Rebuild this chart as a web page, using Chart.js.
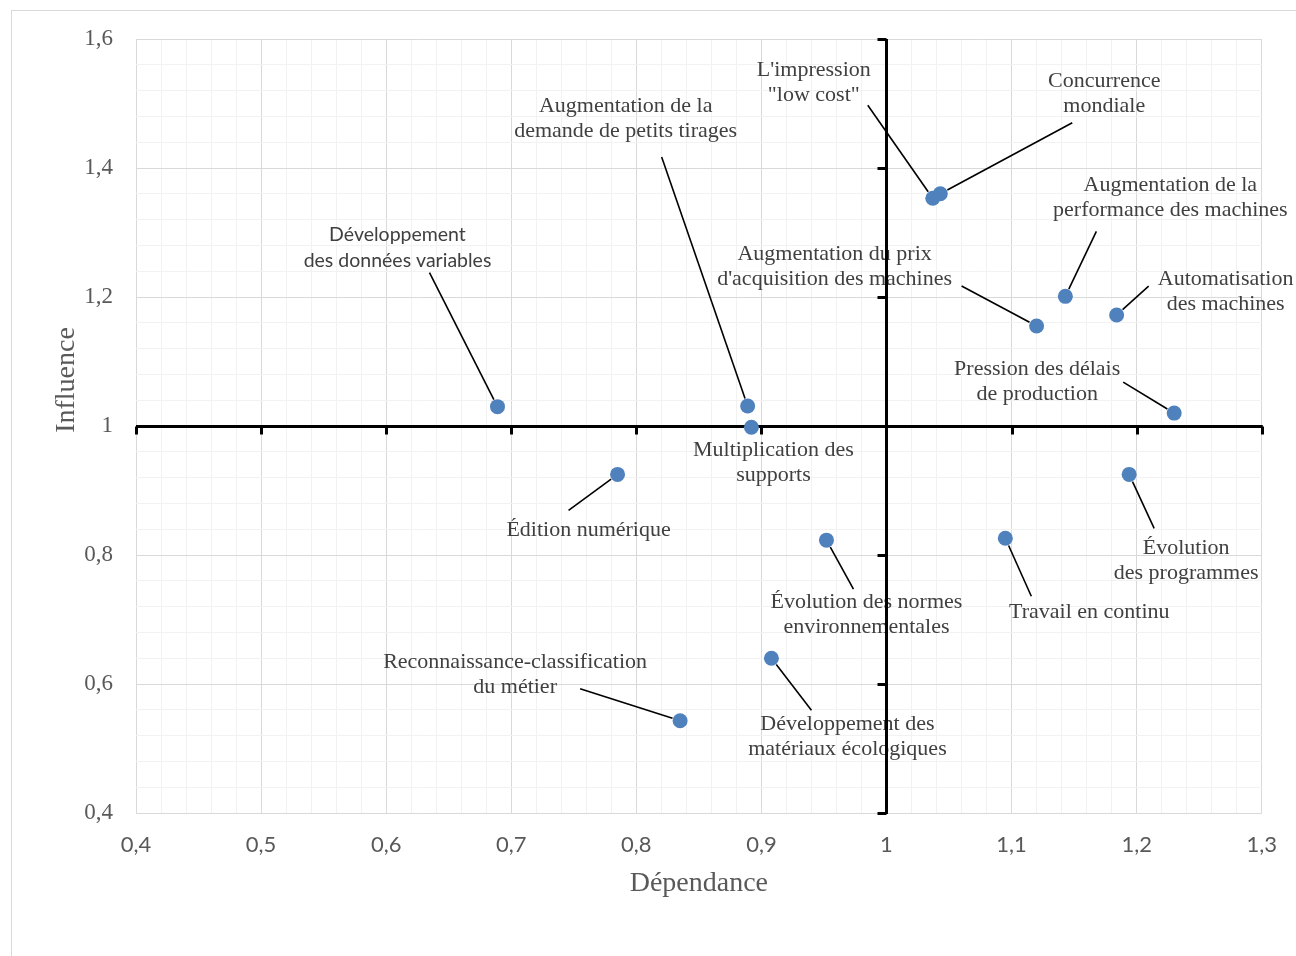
<!DOCTYPE html>
<html>
<head>
<meta charset="utf-8">
<script src="https://cdn.jsdelivr.net/npm/chart.js@4.4.1/dist/chart.umd.min.js"></script>
<style>
html,body{margin:0;padding:0;background:#ffffff;}
#wrap{position:relative;width:1296px;height:956px;}
canvas{display:block;}
</style>
</head>
<body>
<div id="wrap"><canvas id="c" width="1296" height="956"></canvas></div>
<script>
// ---------- data ----------
const categories = [
  ["Développement", "des données variables"],
  ["Augmentation de la", "demande de petits tirages"],
  ["Multiplication des", "supports"],
  ["Édition numérique"],
  ["L'impression", "\"low cost\""],
  ["Concurrence", "mondiale"],
  ["Augmentation de la", "performance des machines"],
  ["Augmentation du prix", "d'acquisition des machines"],
  ["Automatisation", "des machines"],
  ["Pression des délais", "de production"],
  ["Évolution", "des programmes"],
  ["Travail en continu"],
  ["Évolution des normes", "environnementales"],
  ["Développement des", "matériaux écologiques"],
  ["Reconnaissance-classification", "du métier"]
];
const dependance = [0.689, 0.889, 0.892, 0.785, 1.037, 1.043, 1.143, 1.120, 1.184, 1.230, 1.194, 1.095, 0.952, 0.908, 0.835];
const influence  = [1.030, 1.031, 0.998, 0.925, 1.353, 1.360, 1.201, 1.155, 1.172, 1.020, 0.925, 0.826, 0.823, 0.640, 0.543];

const xTickValues = [0.4, 0.5, 0.6, 0.7, 0.8, 0.9, 1.0, 1.1, 1.2, 1.3];
const xTickLabels = ["0,4", "0,5", "0,6", "0,7", "0,8", "0,9", "1", "1,1", "1,2", "1,3"];
const yTickValues = [0.4, 0.6, 0.8, 1.0, 1.2, 1.4, 1.6];
const yTickLabels = ["0,4", "0,6", "0,8", "1", "1,2", "1,4", "1,6"];

const xTitle = "Dépendance";
const yTitle = "Influence";

// ---------- layout (pixel offsets of labels relative to their point) ----------
const labelOffsets = [
  [-100, -172], [-122, -300], [22, 23], [-29, 56], [-119, -128],
  [164, -113], [105, -111], [-202, -72], [109, -36], [-137, -44],
  [57, 74], [84, 74], [40, 62], [76, 66], [-165, -59]
];
const leaderStarts = [
  [-68, -134], [-86, -249], null, [-49, 36], [-65, -93],
  [132, -71], [31, -65], [-75, -40], [32, -29], [-51, -31],
  [25, 54], [26, 58], [27, 49], [40, 52], [-100, -32]
];
const labelSans = [true, false, false, false, false, false, false, false, false, false, false, false, false, false, false];

const SERIF = "'Liberation Serif', 'DejaVu Serif', serif";
const SANS = "Lato, 'Open Sans', sans-serif";

function buildTicks(values, labels, n) {
  const out = [];
  for (let i = 0; i < values.length; i++) {
    out.push({ value: values[i], major: true, label: labels[i] });
    if (i < values.length - 1) {
      for (let k = 1; k < n; k++) {
        out.push({ value: values[i] + (values[i + 1] - values[i]) * k / n, major: false, label: "" });
      }
    }
  }
  return out;
}

const points = dependance.map((v, i) => ({ x: v, y: influence[i] }));

const annot = {
  id: 'annot',
  beforeDraw(chart) {
    const ctx = chart.ctx;
    ctx.save();
    ctx.fillStyle = '#ffffff';
    ctx.fillRect(0, 0, chart.width, chart.height);
    ctx.strokeStyle = '#d9d9d9';
    ctx.lineWidth = 1;
    ctx.strokeRect(11.5, 10.5, 1400, 1000);
    ctx.restore();
  },
  beforeDatasetsDraw(chart) {
    const ctx = chart.ctx;
    const xs = chart.scales.x, ys = chart.scales.y, a = chart.chartArea;
    ctx.save();
    // labels and leader lines
    categories.forEach((lines, i) => {
      const px = xs.getPixelForValue(dependance[i]);
      const py = ys.getPixelForValue(influence[i]);
      const [dx, dy] = labelOffsets[i];
      ctx.font = labelSans[i] ? ("19.5px " + SANS) : ("22px " + SERIF);
      ctx.fillStyle = '#404040';
      ctx.textAlign = 'center';
      ctx.textBaseline = 'middle';
      const gap = labelSans[i] ? 26 : 25;
      lines.forEach((t, j) => ctx.fillText(t, px + dx, py + dy + j * gap));
      const ls = leaderStarts[i];
      if (ls) {
        const sx = px + ls[0], sy = py + ls[1];
        const len = Math.hypot(ls[0], ls[1]);
        const ex = px + ls[0] / len * 8, ey = py + ls[1] / len * 8;
        ctx.beginPath();
        ctx.strokeStyle = '#000000';
        ctx.lineWidth = 1.6;
        ctx.moveTo(sx, sy);
        ctx.lineTo(ex, ey);
        ctx.stroke();
      }
    });
    // axis cross at (1,1)
    const x0 = Math.round(xs.getPixelForValue(1)) + 0.5;
    const y0 = Math.round(ys.getPixelForValue(1)) + 0.5;
    ctx.strokeStyle = '#000000';
    ctx.lineWidth = 3;
    ctx.lineCap = 'butt';
    ctx.beginPath();
    ctx.moveTo(a.left, y0); ctx.lineTo(a.right + 1, y0);
    ctx.moveTo(x0, a.top); ctx.lineTo(x0, a.bottom + 1);
    ctx.stroke();
    ctx.beginPath();
    xTickValues.forEach(v => {
      const tx = Math.round(xs.getPixelForValue(v)) + 0.5;
      ctx.moveTo(tx, y0); ctx.lineTo(tx, y0 + 8);
    });
    yTickValues.forEach(v => {
      const ty = Math.round(ys.getPixelForValue(v)) + 0.5;
      ctx.moveTo(x0, ty); ctx.lineTo(x0 - 9, ty);
    });
    ctx.stroke();
    // y axis title
    ctx.translate(67, 380);
    ctx.rotate(-Math.PI / 2);
    ctx.font = "28px " + SERIF;
    ctx.fillStyle = '#595959';
    ctx.textAlign = 'center';
    ctx.textBaseline = 'middle';
    ctx.fillText(yTitle, 0, 0);
    ctx.restore();
  }
};

new Chart(document.getElementById('c'), {
  type: 'scatter',
  data: {
    datasets: [{
      data: points,
      backgroundColor: '#4f81bd',
      borderColor: '#4f81bd',
      borderWidth: 0,
      pointRadius: 7.5,
      pointHoverRadius: 7.5
    }]
  },
  options: {
    responsive: false,
    animation: false,
    devicePixelRatio: 1,
    events: [],
    layout: { padding: { left: 0, top: 39, right: 34, bottom: 0 } },
    plugins: { legend: { display: false }, tooltip: { enabled: false }, title: { display: false } },
    scales: {
      x: {
        type: 'linear',
        min: 0.4, max: 1.3,
        afterBuildTicks: s => { s.ticks = buildTicks(xTickValues, xTickLabels, 5); },
        afterFit: s => { s.height = 143; },
        grid: {
          color: c => (c.tick && c.tick.major) ? '#d9d9d9' : '#f2f2f2',
          lineWidth: 1,
          drawTicks: false
        },
        border: { display: false },
        ticks: {
          autoSkip: false,
          maxRotation: 0,
          padding: 19,
          color: '#595959',
          font: { family: SANS, size: 22 },
          callback: (v, i, t) => t[i].label
        },
        title: {
          display: true,
          text: xTitle,
          color: '#595959',
          font: { family: SERIF, size: 28 },
          padding: { top: 0, bottom: 56 }
        }
      },
      y: {
        type: 'linear',
        min: 0.4, max: 1.6,
        afterBuildTicks: s => { s.ticks = buildTicks(yTickValues, yTickLabels, 5); },
        afterFit: s => { s.width = 136; },
        grid: {
          color: c => (c.tick && c.tick.major) ? '#d9d9d9' : '#f2f2f2',
          lineWidth: 1,
          drawTicks: false
        },
        border: { display: false },
        ticks: {
          autoSkip: false,
          padding: 23,
          color: '#595959',
          font: { family: SERIF, size: 23 },
          callback: (v, i, t) => t[i].label
        }
      }
    }
  },
  plugins: [annot]
});
</script>
</body>
</html>
